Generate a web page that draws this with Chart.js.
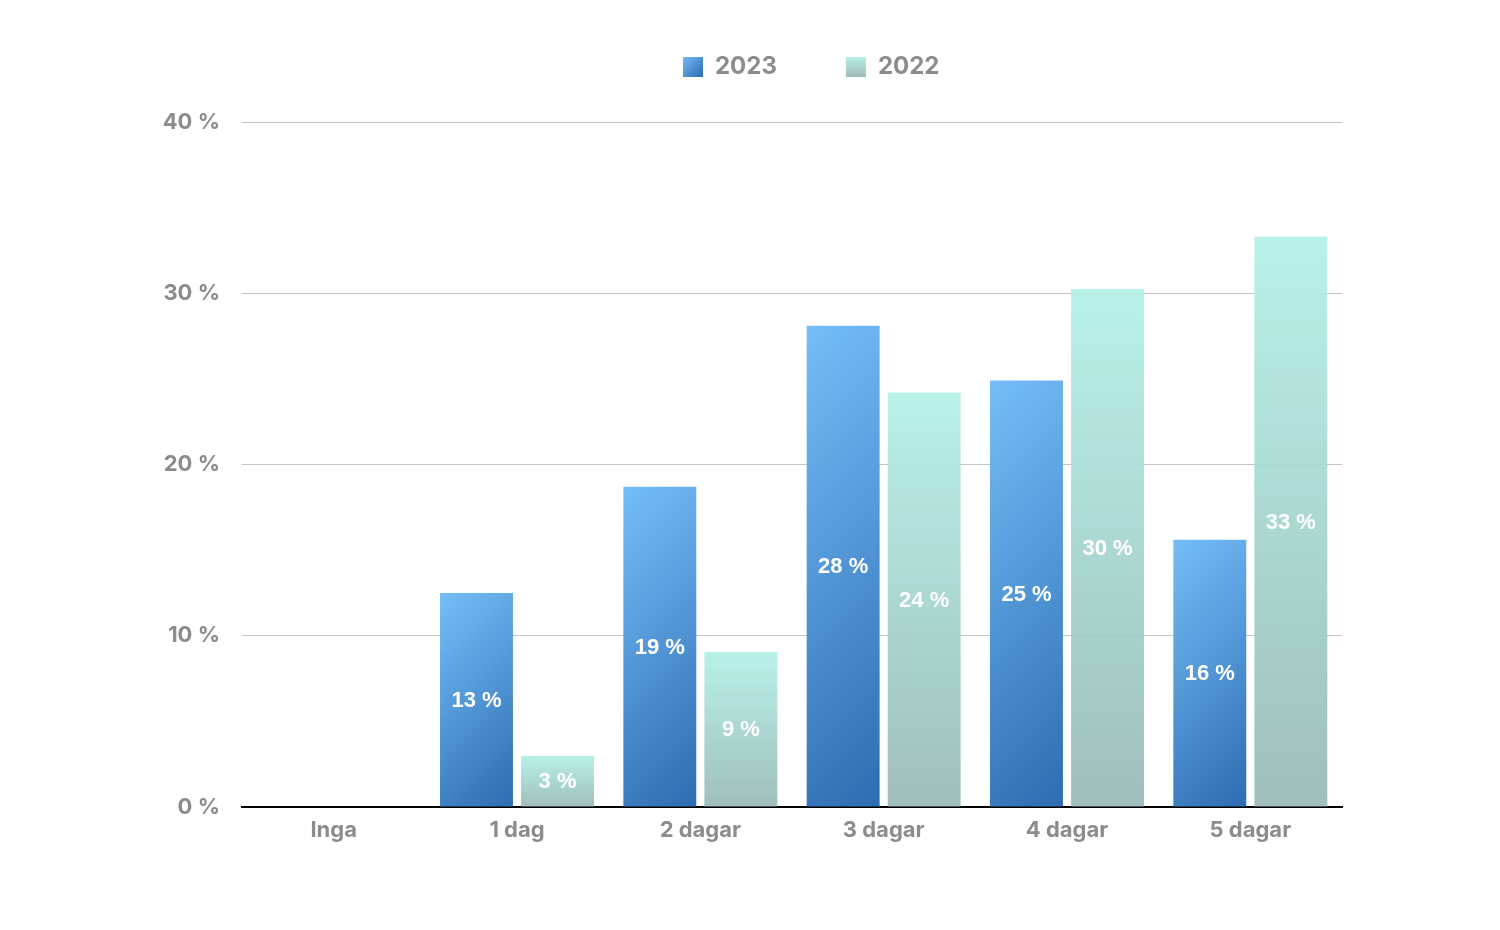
<!DOCTYPE html>
<html><head><meta charset="utf-8">
<script src="https://cdn.jsdelivr.net/npm/chart.js@4"></script>
<style>html,body{margin:0;padding:0;background:#fff}#wrap{width:1500px;height:930px}</style>
</head><body><div id="wrap"><canvas id="c" width="1500" height="930"></canvas></div>
<script>
const categories = ['Inga', '1 dag', '2 dagar', '3 dagar', '4 dagar', '5 dagar'];
const values2023 = [0, 12.5, 18.7, 28.1, 24.9, 15.6];
const values2022 = [0, 3.0, 9.05, 24.2, 30.25, 33.3];
const labels2023 = ['', '13 %', '19 %', '28 %', '25 %', '16 %'];
const labels2022 = ['', '3 %', '9 %', '24 %', '30 %', '33 %'];
const seriesNames = ['2023', '2022'];
const yTicks = [0, 10, 20, 30, 40];

const GRAY = '#8c8c8c';
const AXFONT = "Inter, Lato, 'Open Sans', sans-serif";

function blueGrad(ctx, l, t, r, b) {
  const w = r - l, h = b - t, d = (w + h) / 2;
  const g = ctx.createLinearGradient(l, t, l + d, t + d);
  g.addColorStop(0, '#75bef9');
  g.addColorStop(1, '#2d6cb1');
  return g;
}
function tealGrad(ctx, y0, y1) {
  const g = ctx.createLinearGradient(0, y0, 0, y1);
  g.addColorStop(0, 'rgba(178,240,230,0.92)');
  g.addColorStop(1, 'rgba(152,185,183,0.92)');
  return g;
}

function bg2023(c) {
  const el = c.element;
  if (!el || el.x === undefined || isNaN(el.y)) return '#4a90d8';
  return blueGrad(c.chart.ctx, el.x - el.width / 2, el.y, el.x + el.width / 2, el.base);
}
function bg2022(c) {
  const el = c.element;
  if (!el || el.x === undefined || isNaN(el.y)) return '#a8d8d0';
  return tealGrad(c.chart.ctx, el.y, el.base);
}

const barLabels = {
  id: 'barLabels',
  afterDatasetsDraw(chart) {
    const ctx = chart.ctx;
    const lab = [labels2023, labels2022];
    ctx.save();
    ctx.fillStyle = '#ffffff';
    ctx.font = "bold 22px 'Liberation Sans', Arial, sans-serif";
    ctx.textAlign = 'center';
    ctx.textBaseline = 'middle';
    chart.data.datasets.forEach((ds, di) => {
      chart.getDatasetMeta(di).data.forEach((el, i) => {
        const t = lab[di][i];
        if (!t) return;
        ctx.fillText(t, el.x, (el.y + el.base) / 2 + 1);
      });
    });
    ctx.restore();
  }
};

// place the legend so its first box starts at x = 683
const legendShift = {
  id: 'legendShift',
  afterLayout(chart) {
    const lg = chart.legend;
    if (!lg || !lg.lineWidths) return;
    const pad = lg.options.labels.padding;
    const cur = (lg.left + pad + lg.right - lg.lineWidths[0]) / 2;
    const d = 683 - cur;
    lg.left += d; lg.right += d;
  }
};

const ctx = document.getElementById('c').getContext('2d');
const legendGrads = [blueGrad(ctx, 683, 56, 703, 76), tealGrad(ctx, 56, 76)];

const chart = new Chart(ctx, {
  type: 'bar',
  data: {
    labels: categories,
    datasets: [
      { label: seriesNames[0], data: values2023, backgroundColor: bg2023, borderWidth: 0,
        barPercentage: 0.9, categoryPercentage: 0.884 },
      { label: seriesNames[1], data: values2022, backgroundColor: bg2022, borderWidth: 0,
        barPercentage: 0.9, categoryPercentage: 0.884 }
    ]
  },
  options: {
    responsive: false,
    animation: false,
    layout: { padding: { top: -14, right: 158, bottom: 0, left: 0 } },
    plugins: {
      tooltip: { enabled: false },
      legend: {
        display: true,
        position: 'top',
        labels: {
          boxWidth: 20, boxHeight: 20, padding: 69,
          color: GRAY,
          font: { family: AXFONT, size: 24, weight: 'bold' },
          generateLabels(chart) {
            return seriesNames.map((n, i) => ({
              text: n, fillStyle: legendGrads[i], strokeStyle: 'rgba(0,0,0,0)',
              lineWidth: 0, datasetIndex: i, hidden: false, fontColor: GRAY
            }));
          }
        }
      },
      subtitle: {
        display: true, text: '', weight: 500,
        font: { size: 10, lineHeight: 1 },
        padding: { top: 0, bottom: 23 }
      }
    },
    scales: {
      x: {
        grid: { display: false, drawTicks: false },
        border: { display: true, color: '#000000', width: 2 },
        ticks: { color: GRAY, font: { family: AXFONT, size: 22, weight: 'bold' }, padding: 10 },
        afterFit(s) { s.height = 123; }
      },
      y: {
        min: 0, max: 40,
        afterBuildTicks(s) { s.ticks = yTicks.map(v => ({ value: v })); },
        grid: { color: '#c4c4c4', lineWidth: 1, drawTicks: false },
        border: { display: false },
        ticks: {
          color: GRAY, padding: 22,
          font: { family: AXFONT, size: 22, weight: 'bold' },
          callback: v => v + ' %'
        },
        afterFit(s) { s.width = 242; }
      }
    }
  },
  plugins: [barLabels, legendShift]
});
chart.update();
</script></body></html>
